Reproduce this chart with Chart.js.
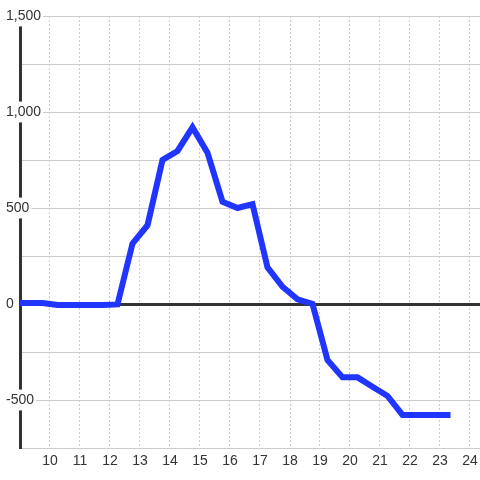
<!DOCTYPE html>
<html>
<head>
<meta charset="utf-8">
<script src="https://cdn.jsdelivr.net/npm/chart.js@4/dist/chart.umd.min.js"></script>
<style>
html,body{margin:0;padding:0;background:#ffffff;}
#wrap{width:480px;height:480px;}
</style>
</head>
<body>
<div id="wrap"><canvas id="c" width="480" height="480"></canvas></div>
<script>
// Data
const hours = [8.75, 9.25, 9.75, 10.25, 10.75, 11.25, 11.75, 12.25, 12.75, 13.25, 13.75, 14.25, 14.75, 15.25, 15.75, 16.25, 16.75, 17.25, 17.75, 18.25, 18.75, 19.25, 19.75, 20.25, 20.75, 21.25, 21.75, 22.25, 22.75, 23.25];
const values = [5, 5, 5, -5, -5, -5, -5, -2, 315, 410, 750, 797, 920, 788, 533, 500, 520, 191, 90, 24, 0, -292, -382, -382, -431, -479, -578, -578, -578, -578];
const xTickValues = [10, 11, 12, 13, 14, 15, 16, 17, 18, 19, 20, 21, 22, 23, 24];
const yLabelValues = [-500, 0, 500, 1000, 1500];

const points = hours.map((h, i) => ({x: h, y: values[i]}));
const textColor = '#333333';
const font = {family: 'Liberation Sans, Arial, sans-serif', size: 14};

new Chart(document.getElementById('c'), {
  type: 'line',
  data: {
    datasets: [{
      data: points,
      borderColor: '#2035ff',
      borderWidth: 6,
      pointRadius: 0,
      tension: 0,
      borderCapStyle: 'square',
      borderJoinStyle: 'miter',
      fill: false
    }]
  },
  options: {
    responsive: false,
    animation: false,
    devicePixelRatio: 1,
    layout: {padding: {left: 6, top: 16, right: 0, bottom: 0}},
    plugins: {legend: {display: false}, tooltip: {enabled: false}},
    scales: {
      x: {
        type: 'linear',
        min: 9,
        max: 9 + 460 / 30,
        afterBuildTicks: (scale) => { scale.ticks = xTickValues.map(v => ({value: v})); },
        afterFit: (scale) => { scale.height = 32; scale.paddingRight = 0; scale.paddingLeft = 0; },
        grid: {color: '#cccccc', lineWidth: 1, drawTicks: false},
        border: {display: false, dash: [2, 2]},
        ticks: {color: textColor, font: font, padding: 5, maxRotation: 0, autoSkip: false,
          callback: (v) => String(v)}
      },
      y: {
        type: 'linear',
        min: -750,
        max: 1500,
        afterFit: (scale) => { scale.width = 14; scale.paddingTop = 0; scale.paddingBottom = 0; },
        grid: {
          drawTicks: false,
          color: (ctx) => (ctx.tick && ctx.tick.value === 0) ? '#333333' : '#cccccc',
          lineWidth: (ctx) => (ctx.tick && ctx.tick.value === 0) ? 3 : 1
        },
        border: {display: true, color: '#333333', width: 3},
        ticks: {
          stepSize: 250,
          color: textColor,
          font: font,
          mirror: true,
          crossAlign: 'near',
          padding: -14,
          showLabelBackdrop: true,
          backdropColor: (ctx) => yLabelValues.includes(ctx.tick && ctx.tick.value) ? '#ffffff' : 'rgba(0,0,0,0)',
          backdropPadding: 2,
          callback: (v) => yLabelValues.includes(v) ? v.toLocaleString('en-US') : ''
        }
      }
    }
  }
});
</script>
</body>
</html>
